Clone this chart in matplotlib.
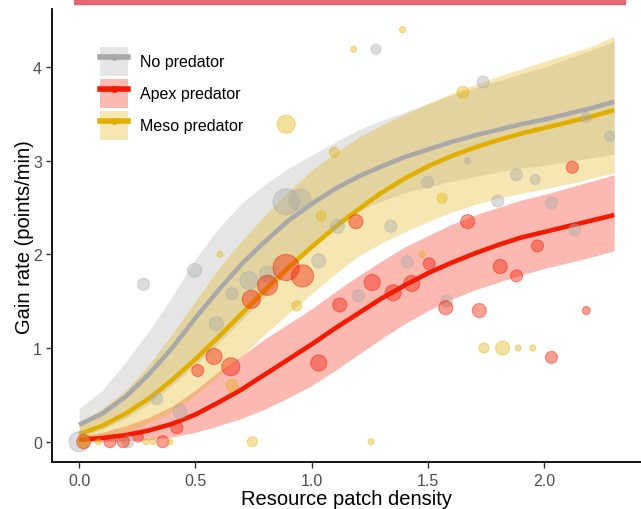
import matplotlib
matplotlib.use("Agg")
import matplotlib.pyplot as plt
from matplotlib.patches import Patch, Rectangle
from matplotlib.lines import Line2D

plt.rcParams['font.family'] = ['Liberation Sans', 'DejaVu Sans']

# fitted curves
fit_x = [0.0, 0.1, 0.2, 0.3, 0.4, 0.5, 0.6, 0.7, 0.8, 0.9, 1.0, 1.1,
         1.2, 1.3, 1.4, 1.5, 1.6, 1.7, 1.8, 1.9, 2.0, 2.1, 2.2, 2.3]

none_fit = [0.18, 0.30, 0.48, 0.72, 1.00, 1.32, 1.62, 1.90, 2.14, 2.36, 2.54, 2.70,
            2.83, 2.94, 3.04, 3.12, 3.20, 3.27, 3.33, 3.39, 3.44, 3.50, 3.56, 3.63]
none_lo = [0.05, 0.13, 0.25, 0.40, 0.60, 0.82, 1.05, 1.30, 1.55, 1.82, 2.08, 2.30,
           2.46, 2.57, 2.66, 2.72, 2.78, 2.83, 2.88, 2.92, 2.95, 2.99, 3.03, 3.07]
none_hi = [0.35, 0.55, 0.85, 1.18, 1.55, 1.95, 2.28, 2.55, 2.75, 2.92, 3.06, 3.20,
           3.33, 3.43, 3.52, 3.61, 3.70, 3.78, 3.85, 3.93, 4.00, 4.09, 4.18, 4.28]

meso_fit = [0.08, 0.17, 0.30, 0.46, 0.66, 0.88, 1.12, 1.37, 1.62, 1.86, 2.08, 2.29,
            2.48, 2.66, 2.81, 2.94, 3.05, 3.14, 3.22, 3.29, 3.35, 3.41, 3.47, 3.54]
meso_lo = [0.00, 0.04, 0.10, 0.20, 0.32, 0.50, 0.70, 0.92, 1.15, 1.37, 1.58, 1.79,
           1.98, 2.12, 2.24, 2.35, 2.45, 2.53, 2.60, 2.65, 2.70, 2.75, 2.81, 2.87]
meso_hi = [0.20, 0.35, 0.55, 0.82, 1.15, 1.50, 1.85, 2.15, 2.42, 2.67, 2.90, 3.08,
           3.25, 3.38, 3.50, 3.61, 3.72, 3.81, 3.90, 3.98, 4.06, 4.14, 4.22, 4.33]

apex_fit = [0.02, 0.04, 0.07, 0.12, 0.19, 0.29, 0.42, 0.56, 0.72, 0.88, 1.04, 1.21,
            1.37, 1.53, 1.67, 1.80, 1.91, 2.01, 2.10, 2.18, 2.24, 2.30, 2.36, 2.42]
apex_lo = [0.00, 0.00, 0.01, 0.02, 0.05, 0.10, 0.17, 0.25, 0.35, 0.47, 0.60, 0.76,
           0.93, 1.10, 1.26, 1.40, 1.52, 1.62, 1.70, 1.78, 1.85, 1.91, 1.97, 2.04]
apex_hi = [0.06, 0.10, 0.17, 0.26, 0.38, 0.55, 0.75, 0.92, 1.10, 1.26, 1.42, 1.60,
           1.77, 1.93, 2.08, 2.20, 2.32, 2.42, 2.50, 2.58, 2.64, 2.71, 2.78, 2.85]

# observations (x, y, marker size)
none_x = [0.0, 0.277, 0.496, 0.334, 0.434, 0.59, 0.657, 0.73, 0.81, 1.03, 1.11, 0.89, 0.95,
          0.21, 1.276, 1.736, 1.498, 1.67, 1.88, 1.96, 2.18, 2.28, 1.80, 2.03, 1.34, 1.20,
          1.41, 1.58, 2.13]
none_y = [0.0, 1.68, 1.83, 0.46, 0.32, 1.26, 1.58, 1.72, 1.79, 1.93, 2.30, 2.56, 2.58,
          0.0, 4.19, 3.84, 2.77, 3.00, 2.85, 2.80, 3.46, 3.26, 2.57, 2.55, 2.30, 1.56,
          1.92, 1.50, 2.26]
none_s = [10, 6, 7, 6, 7, 7, 6, 9, 8, 7, 7, 13, 11,
          6, 5, 6, 6, 3, 6, 5, 5, 5, 6, 6, 6, 6,
          6, 6, 6]

apex_x = [0.02, 0.133, 0.19, 0.255, 0.36, 0.42, 0.51, 0.58, 0.652, 0.74, 0.81, 0.89, 0.96,
          1.03, 1.12, 1.19, 1.67, 2.12, 1.26, 1.35, 1.43, 1.505, 1.81, 1.88, 1.97, 1.576,
          1.72, 2.18, 2.03]
apex_y = [0.0, 0.0, 0.0, 0.05, 0.0, 0.15, 0.76, 0.91, 0.80, 1.52, 1.67, 1.86, 1.77,
          0.84, 1.46, 2.35, 2.35, 2.93, 1.70, 1.59, 1.69, 1.90, 1.87, 1.77, 2.09, 1.43,
          1.40, 1.40, 0.90]
apex_s = [7, 6, 6, 5, 6, 6, 6, 8, 9, 9, 10, 13, 11,
          8, 7, 7, 7, 6, 8, 8, 8, 6, 7, 6, 6, 7,
          7, 4, 6]

meso_x = [0.02, 0.083, 0.288, 0.317, 0.39, 0.606, 0.657, 0.745, 0.936, 1.04, 1.097, 0.89,
          1.255, 1.74, 1.82, 1.887, 1.95, 1.18, 1.39, 1.65, 1.56, 1.474]
meso_y = [0.0, 0.0, 0.0, 0.0, 0.0, 2.0, 0.60, 0.0, 1.45, 2.41, 3.09, 3.39,
          0.0, 1.0, 1.0, 1.0, 1.0, 4.19, 4.40, 3.73, 2.60, 2.0]
meso_s = [6, 3, 3, 3, 3, 3, 6, 5, 5, 5, 5, 9,
          3, 5, 7, 3, 3, 3, 3, 6, 5, 3]

groups = ['No predator', 'Apex predator', 'Meso predator']
line_cols = ['#A9A9A9', '#F21A00', '#E1AF00']

fig = plt.figure(figsize=(6.41, 5.10), dpi=100)
ax = fig.add_axes([52.3 / 641, 1 - 463.3 / 510, 1 - 52.3 / 641, (463.3 - 10) / 510])

fits = [(none_fit, none_lo, none_hi), (apex_fit, apex_lo, apex_hi), (meso_fit, meso_lo, meso_hi)]
for (f, lo, hi), c in zip(fits, line_cols):
    ax.fill_between(fit_x, lo, hi, color=c, alpha=0.3, lw=0, zorder=1)
for (f, lo, hi), c in zip(fits, line_cols):
    ax.plot(fit_x, f, color=c, lw=3.3, zorder=3, solid_capstyle='butt')

pts = [(none_x, none_y, none_s), (apex_x, apex_y, apex_s), (meso_x, meso_y, meso_s)]
for (px, py, ps), c, a in zip(pts, line_cols, [0.4, 0.42, 0.38]):
    ax.scatter(px, py, s=[(r * 1.45) ** 2 for r in ps], color=c, alpha=a,
               edgecolors=c, linewidths=0.8, zorder=4)

ax.set_xlim(-0.115, 2.415)
ax.set_ylim(-0.22, 4.62)
ax.set_xticks([0.0, 0.5, 1.0, 1.5, 2.0])
ax.set_xticklabels(['0.0', '0.5', '1.0', '1.5', '2.0'])
ax.set_yticks([0, 1, 2, 3, 4])
ax.tick_params(colors='#333333', labelcolor='#4D4D4D', labelsize=11.5, length=4, width=1)
for s in ['top', 'right']:
    ax.spines[s].set_visible(False)
for s in ['left', 'bottom']:
    ax.spines[s].set_linewidth(1.3)
ax.set_xlabel('Resource patch density', fontsize=14.5, labelpad=1)
ax.set_ylabel('Gain rate (points/min)', fontsize=14.5, labelpad=-1)

handles = []
for c in line_cols:
    handles.append((Patch(facecolor=c, alpha=0.3, lw=0),
                    Line2D([], [], color=c, lw=4, marker='o', markersize=4)))
ax.legend(handles, groups, loc='upper left', bbox_to_anchor=(100 / 641, 1 - 48 / 510),
          bbox_transform=fig.transFigure, frameon=False, borderpad=0, borderaxespad=0,
          fontsize=11.5, handlelength=1.75, handleheight=2.4, labelspacing=0.2,
          handletextpad=0.75)

fig.patches.append(Rectangle((74 / 641, 1 - 5 / 510), (625 - 74) / 641, 5 / 510,
                             transform=fig.transFigure, color='#E46470', zorder=10))

fig.savefig('out.png', dpi=100)
